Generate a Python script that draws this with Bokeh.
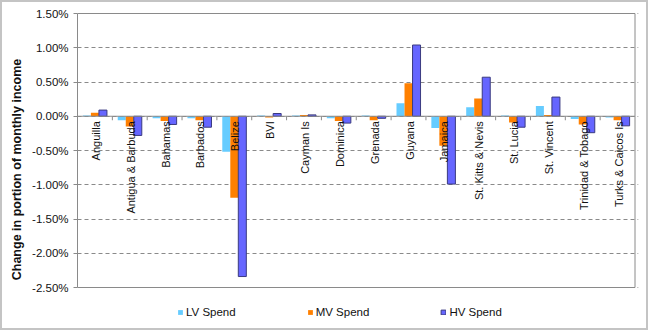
import numpy as np
from math import pi
from bokeh.plotting import figure
from bokeh.models import (ColumnDataSource, Legend, LegendItem,
                          NumeralTickFormatter, FixedTicker, Range1d)
from bokeh.core.properties import value
from bokeh.transform import dodge
from bokeh.embed import file_html
from bokeh.resources import INLINE

categories = ["Anguilla", "Antigua & Barbuda", "Bahamas", "Barbados", "Belize", "BVI",
              "Cayman Is", "Dominica", "Grenada", "Guyana", "Jamaica", "St. Kitts & Nevis",
              "St. Lucia", "St. Vincent", "Trinidad & Tobago", "Turks & Caicos Is"]
# values in percent of monthly income
lv_spend = [0.01, -0.06, -0.03, -0.03, -0.52, 0.01, 0.01, -0.03, 0.01, 0.19, -0.17, 0.13, 0.01, 0.15, -0.04, -0.02]
mv_spend = [0.05, -0.15, -0.07, -0.06, -1.19, -0.02, 0.02, -0.07, -0.06, 0.48, -0.43, 0.26, -0.09, 0.02, -0.12, -0.06]
hv_spend = [0.09, -0.28, -0.12, -0.16, -2.34, 0.04, 0.02, -0.10, -0.03, 1.04, -0.99, 0.57, -0.16, 0.28, -0.24, -0.14]
y_ticks = [-2.5, -2.0, -1.5, -1.0, -0.5, 0.0, 0.5, 1.0, 1.5]

FONT = "Liberation Sans"
GREY = "#8a8a8a"
n = len(categories)
centers = np.arange(n) + 0.5
bw = 0.23

y_lo = y_ticks[0] / 100.0
y_hi = y_ticks[-1] / 100.0
px_per_unit = 274 / (y_hi - y_lo)          # plot-area height in pixels
extra_bottom = 40 / px_per_unit              # room below the plot area for the legend
extra_top = 2 / px_per_unit

src = ColumnDataSource(dict(
    x=centers,
    lv=np.array(lv_spend) / 100.0,
    mv=np.array(mv_spend) / 100.0,
    hv=np.array(hv_spend) / 100.0,
    cat=categories,
))

p = figure(width=648, height=330, output_backend="svg", toolbar_location=None,
           x_range=Range1d(0, n + 0.1), y_range=Range1d(y_lo - extra_bottom, y_hi + extra_top),
           x_axis_location=None,
           min_border_left=77, min_border_right=10, min_border_top=11, min_border_bottom=3)
p.border_fill_color = None
p.background_fill_color = None
p.styles = {"background-color": "white", "box-shadow": "inset 0 0 0 2px #c4c4c4"}
p.outline_line_color = None

p.yaxis.bounds = (y_lo, y_hi)
p.yaxis.ticker = FixedTicker(ticks=[t / 100.0 for t in y_ticks])
p.yaxis.formatter = NumeralTickFormatter(format="0.00%")
p.yaxis.axis_line_color = GREY
p.yaxis.major_tick_line_color = GREY
p.yaxis.major_tick_out = 4
p.yaxis.major_tick_in = 0
p.yaxis.minor_tick_line_color = None
p.yaxis.major_label_text_font = FONT
p.yaxis.major_label_text_font_size = "11.5px"
p.yaxis.major_label_text_color = "#111111"
p.yaxis.major_label_standoff = 5
p.yaxis.axis_label = "Change in portion of monthly income"
p.yaxis.axis_label_text_font = FONT
p.yaxis.axis_label_text_font_size = "12.5px"
p.yaxis.axis_label_text_font_style = "bold"
p.yaxis.axis_label_text_color = "#111111"
p.yaxis.axis_label_standoff = 5

p.xgrid.visible = False
p.ygrid.grid_line_color = GREY
p.ygrid.grid_line_dash = "4 3"
p.ygrid.grid_line_width = 1
p.ygrid.bounds = (0, n)

# plot-area border (top, right, bottom)
p.segment(x0=[0, n, 0], y0=[y_hi, y_lo, y_lo], x1=[n, n, n], y1=[y_hi, y_hi, y_lo],
          line_color=GREY, line_width=1)

r_lv = p.vbar(x=dodge("x", -bw, range=p.x_range), top="lv", width=bw, source=src,
              fill_color="#66CCFF", line_color=None)
r_mv = p.vbar(x=dodge("x", 0.0, range=p.x_range), top="mv", width=bw, source=src,
              fill_color="#FF8000", line_color=None)
r_hv = p.vbar(x=dodge("x", bw, range=p.x_range), top="hv", width=bw, source=src,
              fill_color="#6666FF", line_color="#3a3a80", line_width=1)

# zero line and category tick marks
p.segment(x0=[0], y0=[0], x1=[n], y1=[0], line_color=GREY, line_width=1)
bounds = np.arange(1, n)
p.segment(x0=bounds, y0=0, x1=bounds, y1=-4 / px_per_unit, line_color=GREY, line_width=1)

# category labels next to zero line
p.text(x="x", y=0, text="cat", source=src, angle=pi / 2, text_align="right",
       text_baseline="middle", y_offset=5, x_offset=1,
       text_font=value(FONT), text_font_size="11px", text_color="#111111")

legend = Legend(items=[LegendItem(label="LV Spend", renderers=[r_lv]),
                       LegendItem(label="MV Spend", renderers=[r_mv]),
                       LegendItem(label="HV Spend", renderers=[r_hv])],
                location=(100, 8), orientation="horizontal",
                glyph_width=6, glyph_height=6, label_standoff=3, spacing=71,
                padding=0, margin=0, border_line_color=None, background_fill_alpha=0,
                label_text_font=FONT, label_text_font_size="11.5px",
                label_text_color="#111111", label_height=14)
p.add_layout(legend, "center")

open("out.html", "w").write(file_html(p, INLINE))
